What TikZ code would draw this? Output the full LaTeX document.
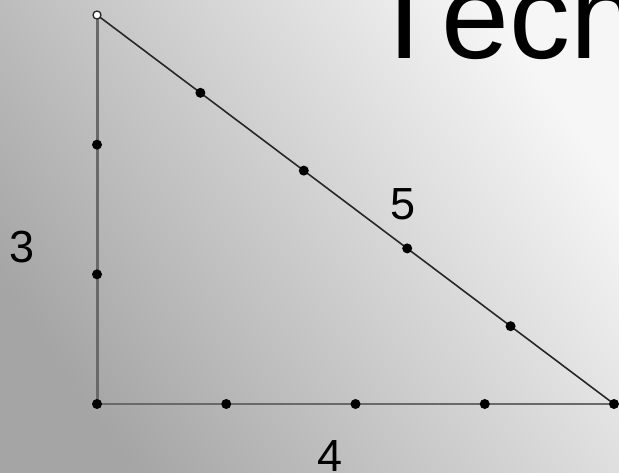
\documentclass[tikz,border=0pt]{standalone}
\usepackage{fontspec}
\setmainfont{Liberation Sans}
\newfontfamily\titlefont[Kerning=Off]{Liberation Sans}
\usetikzlibrary{calc}
\begin{document}
\begin{tikzpicture}[x=1pt,y=-1pt,
  dot/.style={circle,fill=black,inner sep=0pt,minimum size=10pt},
  opendot/.style={circle,draw=black!85,fill=white,line width=1.3pt,inner sep=0pt,minimum size=8pt},
  leg/.style={draw={rgb,255:red,105;green,105;blue,105},line width=3pt},
  hyp/.style={draw={rgb,255:red,40;green,40;blue,40},line width=1.6pt},
  num/.style={font=\fontsize{45}{50}\selectfont,inner sep=0pt,text=black}]
\useasboundingbox (0,0) rectangle (619,472);
\shade[top color={rgb,255:red,246;green,246;blue,246},bottom color={rgb,255:red,165;green,165;blue,165},shading angle=-55] (0,0) rectangle (619,472);
% title
\node[anchor=base west,inner sep=0pt,font=\titlefont\fontsize{122}{130}\selectfont] (title) at (367,58) {Tech};
% vertices
\coordinate (A) at (97,15);
\coordinate (B) at (97,404);
\coordinate (C) at (614,404);
\draw[leg] (A) -- (B);
\draw[leg,line width=2.6pt] (B) -- (C);
\draw[hyp] (A) -- (C);
% dots on vertical leg
\node[dot] (v1) at ($(A)!1/3!(B)$) {};
\node[dot] (v2) at ($(A)!2/3!(B)$) {};
\node[dot] (vB) at (B) {};
% dots on horizontal leg
\node[dot] (h1) at ($(B)!1/4!(C)$) {};
\node[dot] (h2) at ($(B)!2/4!(C)$) {};
\node[dot] (h3) at ($(B)!3/4!(C)$) {};
\node[dot] (vC) at (C) {};
% dots on hypotenuse
\node[dot] (d1) at ($(A)!1/5!(C)$) {};
\node[dot] (d2) at ($(A)!2/5!(C)$) {};
\node[dot] (d3) at ($(A)!3/5!(C)$) {};
\node[dot] (d4) at ($(A)!4/5!(C)$) {};
\node[opendot] (vA) at (A) {};
% labels
\node[num] (l3) at (22,247) {3};
\node[num] (l5) at (403,204) {5};
\node[num,anchor=base] (l4) at (330,471) {4};
\end{tikzpicture}
\end{document}
